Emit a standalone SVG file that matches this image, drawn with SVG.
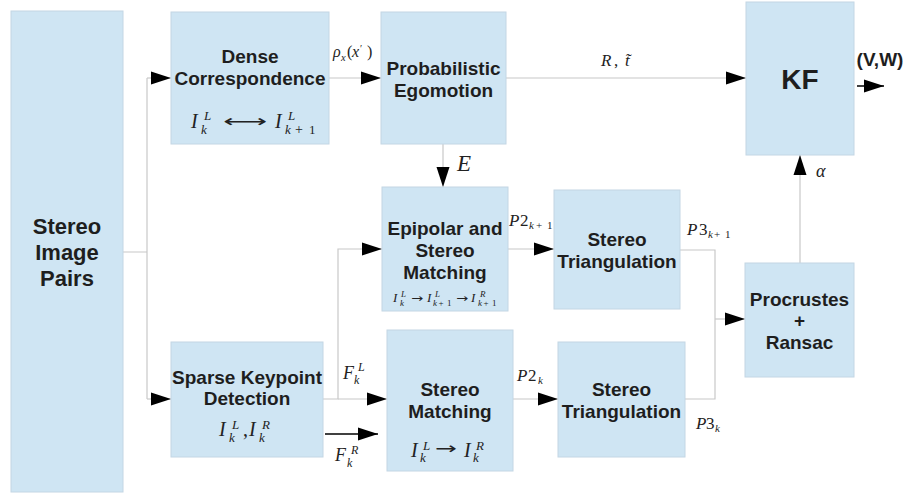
<svg xmlns="http://www.w3.org/2000/svg" width="918" height="494" viewBox="0 0 918 494">
<style>
.box{fill:#cfe5f3;stroke:#c3d6e4;stroke-width:1}
.lbl{font-family:"Liberation Sans",Arial,sans-serif;font-weight:bold;fill:#1e1e1e;text-anchor:middle;font-size:19px}
.big{font-size:22px}
.kf{font-size:28px}
.mi{font-family:"Liberation Serif","DejaVu Serif",serif;font-style:italic;fill:#222}
.mr{font-family:"Liberation Serif","DejaVu Serif",serif;font-style:normal;fill:#222}
.ar{font-family:"DejaVu Sans",sans-serif;fill:#222}
.c{fill:none;stroke:#c8c8c8;stroke-width:1.2}
.a{marker-end:url(#ah)}
.k{fill:none;stroke:#000;stroke-width:1.5}
</style>
<defs>
<marker id="ah" markerUnits="userSpaceOnUse" markerWidth="20" markerHeight="13" refX="20" refY="6.5" orient="auto" overflow="visible">
<path d="M0,0 L20,6.5 L0,13 z" fill="#000"/>
</marker>
</defs>
<rect width="918" height="494" fill="#fff"/>

<g id="connectors">
<path class="c" d="M123,252 H147 M147,78 V399"/>
<path class="c a" d="M147,78 H171"/>
<path class="c a" d="M147,399 H171"/>
<path class="c a" d="M329,78 H381"/>
<path class="c a" d="M506,78 H746"/>
<path class="c a" d="M443,144 V187"/>
<path class="c a" d="M323,399 H338 V249 H382"/>
<path class="c a" d="M338,399 H387"/>
<path class="k a" d="M325,434 H378"/>
<path class="c a" d="M508,249 H554"/>
<path class="c a" d="M513,399 H558"/>
<path class="c" d="M680,250 H715 V399 H685"/>
<path class="c a" d="M715,319 H745"/>
<path class="c a" d="M800,263 V155"/>
<path class="k a" d="M857,86 H884"/>
</g>

<g id="connector-labels">
<text class="mi" font-size="16"><tspan x="333" y="57">ρ</tspan><tspan x="341" y="61" font-size="10.5">x</tspan><tspan x="347" y="57" font-style="normal">(</tspan><tspan x="352">x</tspan><tspan x="360" y="52" font-size="10" font-style="normal">′</tspan><tspan x="367" y="57" font-style="normal">)</tspan></text>
<text class="mi" font-size="17"><tspan x="601" y="66">R</tspan><tspan x="614" font-style="normal">,</tspan><tspan x="625">t&#x303;</tspan></text>
<text class="mi" x="457" y="171" font-size="23">E</text>
<text class="mi" x="816" y="177" font-size="18">α</text>
<text class="lbl" x="880" y="66" font-size="18">(V,W)</text>
<text class="mi" font-size="17"><tspan x="509" y="226">P</tspan><tspan x="520" font-style="normal">2</tspan><tspan x="529" y="229" font-size="11">k</tspan><tspan x="536" font-size="11" font-style="normal">+</tspan><tspan x="547" font-size="11" font-style="normal">1</tspan></text>
<text class="mi" font-size="17"><tspan x="687" y="235">P</tspan><tspan x="699" font-style="normal">3</tspan><tspan x="708" y="238" font-size="11">k</tspan><tspan x="714" font-size="11" font-style="normal">+</tspan><tspan x="725" font-size="11" font-style="normal">1</tspan></text>
<text class="mi" font-size="17"><tspan x="517" y="381">P</tspan><tspan x="528" font-style="normal">2</tspan><tspan x="538" y="384" font-size="11">k</tspan></text>
<text class="mi" font-size="17"><tspan x="696" y="429">P</tspan><tspan x="706" font-style="normal">3</tspan><tspan x="715" y="432" font-size="11">k</tspan></text>
<text class="mi" font-size="18"><tspan x="343" y="379">F</tspan><tspan x="358" y="371" font-size="12">L</tspan><tspan x="354" y="384" font-size="12">k</tspan></text>
<text class="mi" font-size="18"><tspan x="335" y="461">F</tspan><tspan x="351" y="454" font-size="12">R</tspan><tspan x="347" y="467" font-size="12">k</tspan></text>
</g>

<g id="stereo-image-pairs">
<rect class="box" x="11" y="11" width="112" height="481"/>
<text class="lbl big"><tspan x="67" y="234">Stereo</tspan><tspan x="67" y="260">Image</tspan><tspan x="67" y="286">Pairs</tspan></text>
</g>

<g id="dense-correspondence">
<rect class="box" x="171" y="12" width="158" height="132"/>
<text class="lbl"><tspan x="250" y="63">Dense</tspan><tspan x="250" y="85">Correspondence</tspan></text>
<text class="mi" font-size="20"><tspan x="191" y="128">I</tspan><tspan x="204" y="120" font-size="13">L</tspan><tspan x="201" y="133.5" font-size="13">k</tspan></text>
<text class="ar" x="223" y="127" font-size="17" textLength="44" lengthAdjust="spacingAndGlyphs">⟷</text>
<text class="mi" font-size="20"><tspan x="275" y="128">I</tspan><tspan x="288" y="120" font-size="13">L</tspan><tspan x="285" y="133.5" font-size="13">k</tspan><tspan x="295" font-size="14" font-style="normal">+</tspan><tspan x="309" font-size="13" font-style="normal">1</tspan></text>
</g>

<g id="probabilistic-egomotion">
<rect class="box" x="381" y="12" width="125" height="132"/>
<text class="lbl"><tspan x="443.5" y="75">Probabilistic</tspan><tspan x="443.5" y="97">Egomotion</tspan></text>
</g>

<g id="kf">
<rect class="box" x="746" y="2" width="108" height="153"/>
<text class="lbl kf" x="800" y="89">KF</text>
</g>

<g id="epipolar-stereo-matching">
<rect class="box" x="382" y="187" width="126" height="124"/>
<text class="lbl"><tspan x="445" y="235">Epipolar and</tspan><tspan x="445" y="257">Stereo</tspan><tspan x="445" y="279">Matching</tspan></text>
<text class="mi" font-size="13"><tspan x="393" y="302">I</tspan><tspan x="401" y="297" font-size="9">L</tspan><tspan x="400" y="306" font-size="9">k</tspan></text>
<text class="ar" x="411" y="302" font-size="11" textLength="12" lengthAdjust="spacingAndGlyphs">→</text>
<text class="mi" font-size="13"><tspan x="427" y="302">I</tspan><tspan x="435" y="297" font-size="9">L</tspan><tspan x="433" y="306" font-size="9">k</tspan><tspan x="438.5" font-size="9" font-style="normal">+</tspan><tspan x="447" font-size="9" font-style="normal">1</tspan></text>
<text class="ar" x="456" y="302" font-size="11" textLength="12" lengthAdjust="spacingAndGlyphs">→</text>
<text class="mi" font-size="13"><tspan x="471" y="302">I</tspan><tspan x="480" y="297" font-size="9">R</tspan><tspan x="478" y="306" font-size="9">k</tspan><tspan x="483.5" font-size="9" font-style="normal">+</tspan><tspan x="492" font-size="9" font-style="normal">1</tspan></text>
</g>

<g id="stereo-triangulation-top">
<rect class="box" x="554" y="190" width="126" height="119"/>
<text class="lbl"><tspan x="617" y="246">Stereo</tspan><tspan x="617" y="268">Triangulation</tspan></text>
</g>

<g id="procrustes-ransac">
<rect class="box" x="745" y="263" width="109" height="114"/>
<text class="lbl"><tspan x="799.5" y="306">Procrustes</tspan><tspan x="799.5" y="327">+</tspan><tspan x="799.5" y="349">Ransac</tspan></text>
</g>

<g id="sparse-keypoint-detection">
<rect class="box" x="171" y="342" width="152" height="115"/>
<text class="lbl"><tspan x="247" y="384">Sparse Keypoint</tspan><tspan x="247" y="405">Detection</tspan></text>
<text class="mi" font-size="20"><tspan x="219" y="436">I</tspan><tspan x="232" y="429" font-size="13">L</tspan><tspan x="229" y="441.5" font-size="13">k</tspan><tspan x="243" y="436" font-style="normal">,</tspan><tspan x="249">I</tspan><tspan x="262" y="429" font-size="13">R</tspan><tspan x="259" y="441.5" font-size="13">k</tspan></text>
</g>

<g id="stereo-matching">
<rect class="box" x="387" y="330" width="126" height="141"/>
<text class="lbl"><tspan x="450" y="396">Stereo</tspan><tspan x="450" y="418">Matching</tspan></text>
<text class="mi" font-size="20"><tspan x="411" y="457">I</tspan><tspan x="423" y="449.5" font-size="13">L</tspan><tspan x="420" y="462" font-size="13">k</tspan></text>
<text class="ar" x="435" y="454" font-size="16" textLength="22" lengthAdjust="spacingAndGlyphs">→</text>
<text class="mi" font-size="20"><tspan x="464" y="457">I</tspan><tspan x="476" y="449.5" font-size="13">R</tspan><tspan x="473" y="462" font-size="13">k</tspan></text>
</g>

<g id="stereo-triangulation-bottom">
<rect class="box" x="558" y="342" width="127" height="115"/>
<text class="lbl"><tspan x="621.5" y="396">Stereo</tspan><tspan x="621.5" y="418">Triangulation</tspan></text>
</g>
</svg>
